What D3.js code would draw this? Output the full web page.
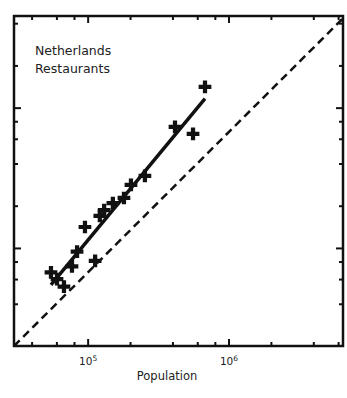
<meta charset="utf-8">
<style>
body { margin: 0; background: #fff; }
.frame { fill: none; stroke: #111; stroke-width: 2.5px; }
.axis path { display: none; }
.axis line { stroke: #111; stroke-width: 2px; }
.axis text { font: 10.5px "DejaVu Sans", sans-serif; fill: #222; }
.fit { fill: none; stroke: #111; stroke-width: 3.5px; }
.diag { fill: none; stroke: #111; stroke-width: 2.5px; stroke-dasharray: 8,5; }
.title { font: 12.5px "DejaVu Sans", sans-serif; fill: #222; }
.xlabel { font: 11.5px "DejaVu Sans", sans-serif; fill: #222; text-anchor: middle; }
</style>
<body>
<script src="https://d3js.org/d3.v7.min.js"></script>
<script>
// cities: population and number of restaurants
var population = [681000, 417000, 560000, 255000, 203000, 181000, 151000, 131000,
                  122000, 95700, 84100, 77400, 113000, 54900, 60600, 67900];
var restaurants = [1404, 728, 649, 326, 281, 227, 209, 186,
                   169, 141, 94, 74, 81, 67, 60, 53];

// axis domains and ticks
var xDomain = [30000, 6500000];
var yDomain = [20, 4500];
var xMajor = [1e5, 1e6];
var xMinor = [4e4, 6e4, 8e4, 2e5, 4e5, 6e5, 8e5, 2e6, 4e6, 6e6];
var yMajor = [100, 1000];
var yMinor = [40, 60, 80, 200, 400, 600, 800, 2000, 4000];
var xTickExp = ["5", "6"];
// dashed reference line: restaurants proportional to population
var linearRatio = 1 / 1500;

var width = 347, height = 398;
var box = {left: 14, right: 343, top: 16, bottom: 346};

var x = d3.scaleLog().domain(xDomain).range([box.left, box.right]);
var y = d3.scaleLog().domain(yDomain).range([box.bottom, box.top]);

var svg = d3.select("body").append("svg")
    .attr("width", width)
    .attr("height", height);

var plotW = box.right - box.left, plotH = box.bottom - box.top;

// clip for the lines
svg.append("clipPath").attr("id", "clip")
  .append("rect")
    .attr("x", box.left).attr("y", box.top)
    .attr("width", plotW).attr("height", plotH);

// ticks, inward on all four sides
function addTicks(axisFn, scale, values, size, transform) {
  return svg.append("g")
      .attr("class", "axis")
      .attr("transform", transform)
      .call(axisFn(scale).tickValues(values).tickSize(-size).tickFormat(function() { return ""; }));
}
addTicks(d3.axisBottom, x, xMinor, 4, "translate(0," + box.bottom + ")");
var xLab = addTicks(d3.axisBottom, x, xMajor, 7, "translate(0," + box.bottom + ")");
addTicks(d3.axisTop, x, xMinor, 4, "translate(0," + box.top + ")");
addTicks(d3.axisTop, x, xMajor, 7, "translate(0," + box.top + ")");
addTicks(d3.axisLeft, y, yMinor, 4, "translate(" + box.left + ",0)");
addTicks(d3.axisLeft, y, yMajor, 7, "translate(" + box.left + ",0)");
addTicks(d3.axisRight, y, yMinor, 4, "translate(" + box.right + ",0)");
addTicks(d3.axisRight, y, yMajor, 7, "translate(" + box.right + ",0)");

// 10 with a raised exponent
xLab.selectAll(".tick text")
    .attr("y", 19)
    .attr("dy", null)
    .each(function(d, i) {
      var t = d3.select(this).text("10");
      t.append("tspan").attr("dy", -4).attr("font-size", "7.5px").text(xTickExp[i]);
    });

// dashed proportional line
svg.append("path")
    .datum(xDomain)
    .attr("class", "diag")
    .attr("clip-path", "url(#clip)")
    .attr("d", d3.line()
        .x(function(d) { return x(d); })
        .y(function(d) { return y(d * linearRatio); }));

// least squares fit in log-log
var lx = population.map(Math.log10), ly = restaurants.map(Math.log10);
var mx = d3.mean(lx), my = d3.mean(ly);
var slope = d3.sum(lx, function(v, i) { return (v - mx) * (ly[i] - my); }) /
            d3.sum(lx, function(v) { return (v - mx) * (v - mx); });
var icpt = my - slope * mx;
var fitX = d3.extent(population);
svg.append("path")
    .datum(fitX)
    .attr("class", "fit")
    .attr("d", d3.line()
        .x(function(d) { return x(d); })
        .y(function(d) { return y(Math.pow(10, icpt + slope * Math.log10(d))); }));

// the cities
svg.selectAll(".city")
    .data(population)
  .enter().append("path")
    .attr("class", "city")
    .attr("fill", "#111")
    .attr("transform", function(d, i) {
      return "translate(" + x(d) + "," + y(restaurants[i]) + ")";
    })
    .attr("d", d3.symbol(d3.symbolCross, 90));

// frame
svg.append("rect")
    .attr("class", "frame")
    .attr("x", box.left).attr("y", box.top)
    .attr("width", plotW).attr("height", plotH);

// texts
svg.append("text").attr("class", "title").attr("x", 35).attr("y", 55).text("Netherlands");
svg.append("text").attr("class", "title").attr("x", 35).attr("y", 73).text("Restaurants");
svg.append("text").attr("class", "xlabel").attr("x", 167).attr("y", 380).text("Population");
</script>
</body>
